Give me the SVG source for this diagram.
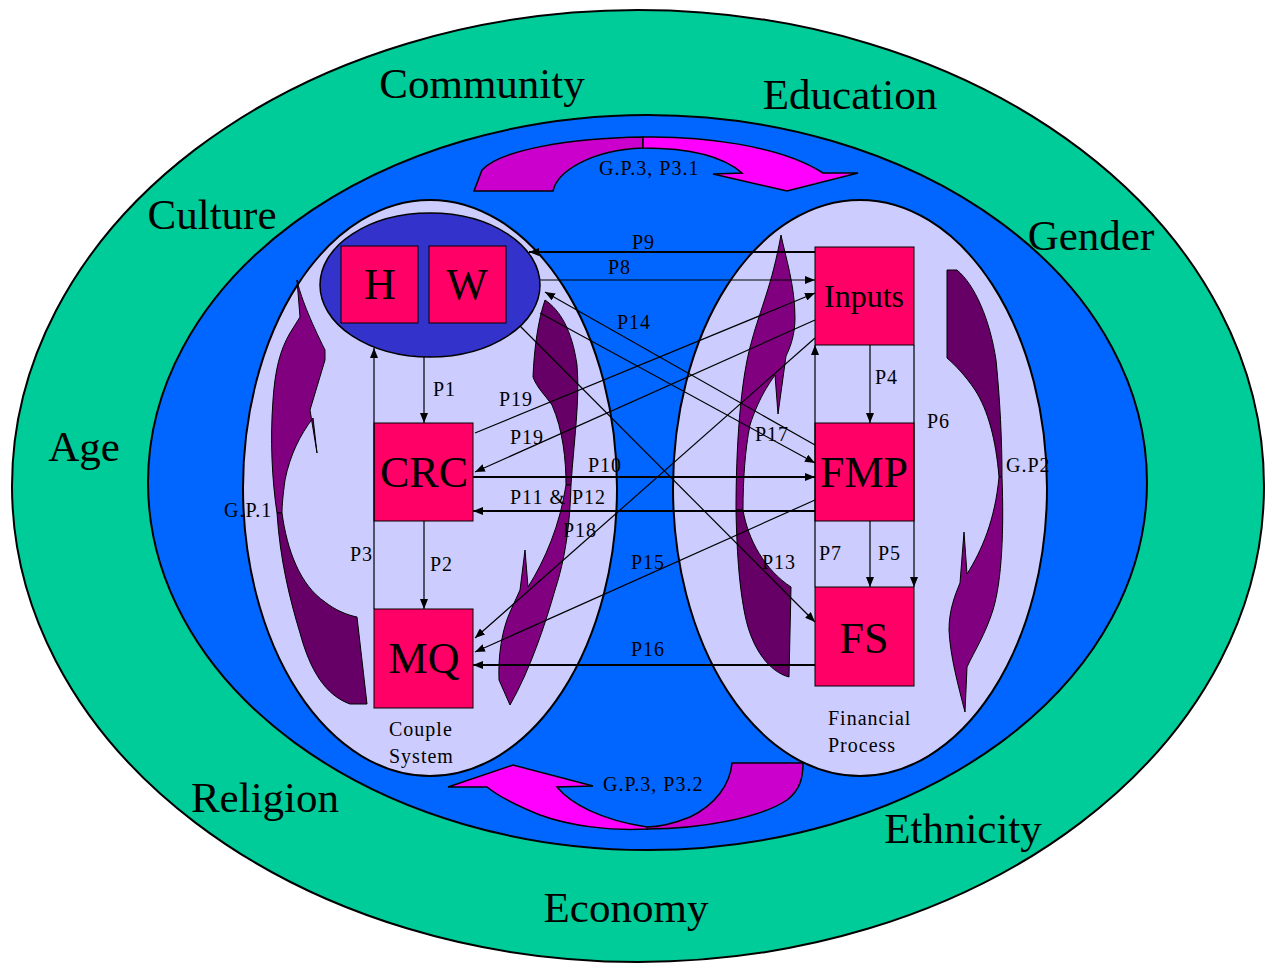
<svg xmlns="http://www.w3.org/2000/svg" width="1270" height="965" viewBox="0 0 1270 965">
<defs>
<style>
.ol{stroke:#000;stroke-width:2}
.box{fill:#FF0066;stroke:#000;stroke-width:1}
.pl{fill:#800080;stroke:#000;stroke-width:1}
.pd{fill:#660066;stroke:#000;stroke-width:1}
.ml{fill:#CC00CC;stroke:#000;stroke-width:1.5}
.mm{fill:#FF00FF;stroke:#000;stroke-width:1.5}
.c{fill:none;stroke:#000;stroke-width:1.2;marker-end:url(#ah)}
.ct{stroke-width:2}
.big{font-family:"Liberation Serif",serif;font-size:43px;fill:#000;text-anchor:middle}
.bx{font-family:"Liberation Serif",serif;font-size:44px;text-anchor:middle;fill:#000}
.p{font-family:"Liberation Serif",serif;font-size:20px;letter-spacing:1px;fill:#000}
</style>
<marker id="ah" viewBox="0 0 10 8" refX="10" refY="4" markerWidth="10" markerHeight="8" markerUnits="userSpaceOnUse" orient="auto"><path d="M0,0 L10,4 L0,8 Z" fill="#000"/></marker>
</defs>
<rect width="1270" height="965" fill="#fff"/>
<g id="environment">
<ellipse cx="638" cy="486" rx="626" ry="476" fill="#00CC99" class="ol"/>
<ellipse cx="647.5" cy="482.5" rx="499.5" ry="367.5" fill="#0066FF" class="ol"/>
</g>
<g id="gp3-top">
<path class="ml" d="M643 137 C570 138 500 150 482 170 L474 191 L553 191 C557 172 590 150 643 148 Z"/>
<path class="mm" d="M643 137 C700 136 780 145 823 173 L858 173 L787 191 L713 174 L742 173 C725 158 695 148 643 148 Z"/>
</g>
<g id="gp3-bottom">
<path class="ml" d="M647 829 C700 829 760 818 787 800 C800 790 803 778 803 763 L732 763 C730 785 715 805 690 817 C675 823 660 827 647 827 Z"/>
<path class="mm" d="M647 829 C610 831 570 826 540 815 C515 805 497 795 487 787 L448 787 L513 765 L593 786 L557 787 C570 803 600 820 647 827 Z"/>
</g>
<g id="couple-system">
<ellipse cx="430" cy="488" rx="187" ry="288" fill="#CCCCFF" class="ol"/>
</g>
<g id="financial-process">
<ellipse cx="860" cy="488" rx="187" ry="288" fill="#CCCCFF" class="ol"/>
</g>
<g id="hw">
<ellipse cx="430" cy="285" rx="110" ry="72" fill="#3333CC" stroke="#000" stroke-width="1.5"/>
</g>
<g id="gp1">
<path class="pl" d="M297 280 C300 295 310 320 325 350 L325 360 L310 410 L317 453 L313 418 C300 435 290 455 285 480 C283 495 282 505 282 513 L277 513 C272 480 270 440 273 400 C275 370 280 350 290 333 L300 317 Z"/>
<path class="pd" d="M277 513 L282 513 C287 550 300 585 325 602 C335 610 347 615 357 617 L367 704 L350 704 C325 695 310 670 300 633 C290 600 280 560 277 513 Z"/>
</g>
<g id="gp-left-inner">
<path class="pd" d="M545 300 C560 310 572 330 577 365 C580 400 574 440 571 485 L566 485 C566 460 563 430 552 405 C545 395 537 388 533 377 C534 350 538 320 545 300 Z"/>
<path class="pl" d="M566 485 L571 485 C570 525 565 560 555 590 C545 625 530 670 510 705 L499 680 C498 655 502 630 510 612 L520 590 L525 550 L528 587 C545 560 560 525 566 485 Z"/>
</g>
<g id="gp-right-inner">
<path class="pl" d="M781 235 C785 255 795 285 795 318 C795 335 790 348 786 356 L778 414 L775 375 C768 385 758 400 750 425 C745 450 743 480 743 510 L736 510 C736 450 740 380 752 340 C760 310 772 285 781 235 Z"/>
<path class="pd" d="M736 510 L743 510 C748 540 765 570 791 587 L789 677 C770 672 752 650 745 615 C740 590 737 560 736 510 Z"/>
</g>
<g id="gp2">
<path class="pd" d="M947 270 L957 270 C975 285 990 320 996 360 C1000 400 1002 440 1002 477 L999 477 C996 440 988 410 975 390 C965 375 955 365 947 358 Z"/>
<path class="pl" d="M999 477 L1002 477 C1004 530 1002 580 993 610 C985 635 975 650 967 667 L965 712 C958 685 950 655 949 630 C949 610 955 595 960 583 L964 532 L967 574 C982 550 995 520 999 477 Z"/>
</g>
<g id="node-H"><rect class="box" x="341" y="246" width="77" height="77"/><text class="bx" x="380" y="299">H</text></g>
<g id="node-W"><rect class="box" x="429" y="246" width="77" height="77"/><text class="bx" x="467" y="299">W</text></g>
<g id="node-CRC"><rect class="box" x="374" y="423" width="99" height="98"/><text class="bx" x="424" y="487">CRC</text></g>
<g id="node-MQ"><rect class="box" x="374" y="609" width="99" height="99"/><text class="bx" x="424" y="673">MQ</text></g>
<g id="node-Inputs"><rect class="box" x="815" y="247" width="99" height="98"/><text class="bx" x="864" y="307" style="font-size:32px">Inputs</text></g>
<g id="node-FMP"><rect class="box" x="815" y="423" width="99" height="98"/><text class="bx" x="864" y="487">FMP</text></g>
<g id="node-FS"><rect class="box" x="815" y="587" width="99" height="99"/><text class="bx" x="864" y="653">FS</text></g>
<g id="connectors">
<line class="c" x1="424" y1="357" x2="424" y2="423"/>
<line class="c" x1="424" y1="521" x2="424" y2="609"/>
<line class="c" x1="374" y1="609" x2="374" y2="348"/>
<line class="c" x1="870" y1="345" x2="870" y2="423"/>
<line class="c" x1="870" y1="521" x2="870" y2="587"/>
<line class="c" x1="914" y1="345" x2="914" y2="587"/>
<line class="c" x1="815" y1="587" x2="815" y2="345"/>
<line class="c" x1="540" y1="280" x2="815" y2="280"/>
<line class="c ct" x1="815" y1="252" x2="529" y2="252"/>
<line class="c ct" x1="473" y1="477" x2="815" y2="477"/>
<line class="c ct" x1="815" y1="511" x2="473" y2="511"/>
<line class="c ct" x1="815" y1="665" x2="473" y2="665"/>
<line class="c" x1="540" y1="313" x2="815" y2="463"/>
<line class="c" x1="815" y1="445" x2="545" y2="292"/>
<line class="c" x1="520" y1="326" x2="815" y2="622"/>
<line class="c" x1="475" y1="433" x2="815" y2="293"/>
<line class="c" x1="815" y1="320" x2="475" y2="472"/>
<line class="c" x1="815" y1="338" x2="475" y2="638"/>
<line class="c" x1="815" y1="500" x2="475" y2="652"/>
</g>
<g id="labels">
<text class="p" x="433" y="396">P1</text>
<text class="p" x="430" y="571">P2</text>
<text class="p" x="350" y="561">P3</text>
<text class="p" x="875" y="384">P4</text>
<text class="p" x="878" y="560">P5</text>
<text class="p" x="927" y="428">P6</text>
<text class="p" x="819" y="560">P7</text>
<text class="p" x="608" y="274">P8</text>
<text class="p" x="632" y="249">P9</text>
<text class="p" x="588" y="472">P10</text>
<text class="p" x="510" y="504">P11 &amp; P12</text>
<text class="p" x="762" y="569">P13</text>
<text class="p" x="617" y="329">P14</text>
<text class="p" x="631" y="569">P15</text>
<text class="p" x="631" y="656">P16</text>
<text class="p" x="755" y="441">P17</text>
<text class="p" x="563" y="537">P18</text>
<text class="p" x="499" y="406">P19</text>
<text class="p" x="510" y="444">P19</text>
<text class="p" x="224" y="517">G.P.1</text>
<text class="p" x="1006" y="472">G.P2</text>
<text class="p" x="599" y="175">G.P.3, P3.1</text>
<text class="p" x="603" y="791">G.P.3, P3.2</text>
<text class="p" x="389" y="736">Couple</text>
<text class="p" x="389" y="763">System</text>
<text class="p" x="828" y="725">Financial</text>
<text class="p" x="828" y="752">Process</text>
<text class="big" x="482" y="98">Community</text>
<text class="big" x="850" y="109">Education</text>
<text class="big" x="212" y="229">Culture</text>
<text class="big" x="1091" y="250">Gender</text>
<text class="big" x="84" y="461">Age</text>
<text class="big" x="265" y="812">Religion</text>
<text class="big" x="963" y="843">Ethnicity</text>
<text class="big" x="626" y="922">Economy</text>
</g>
</svg>
